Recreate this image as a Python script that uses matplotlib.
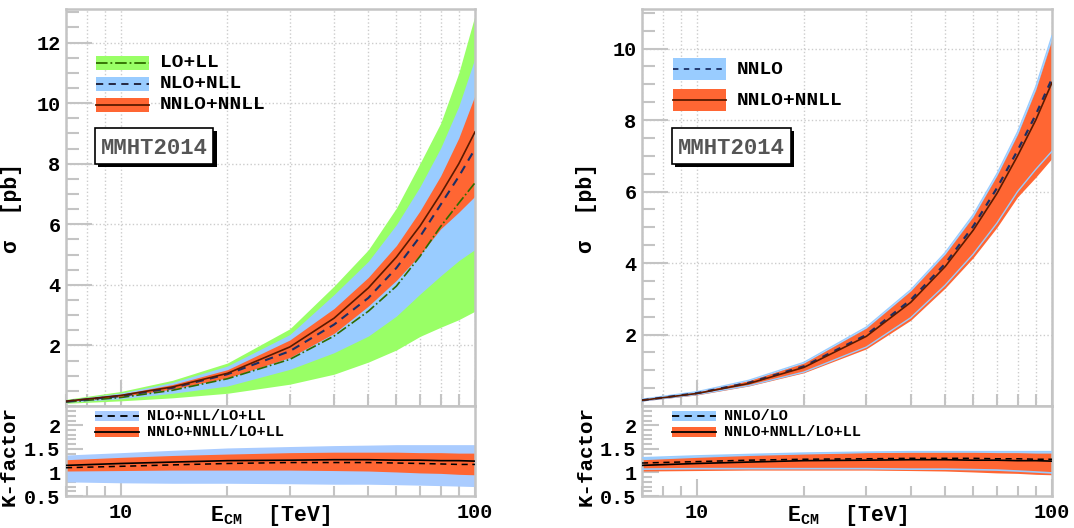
import matplotlib
matplotlib.use("Agg")
import matplotlib.pyplot as plt
from matplotlib.patches import Rectangle
from matplotlib.lines import Line2D
from matplotlib.ticker import FixedLocator, NullFormatter, FixedFormatter

plt.rcParams['font.family'] = ['Liberation Mono', 'DejaVu Sans Mono']
plt.rcParams['font.weight'] = 'bold'
plt.rcParams['mathtext.fontset'] = 'custom'
plt.rcParams['mathtext.rm'] = 'Liberation Mono:bold'
plt.rcParams['mathtext.it'] = 'Liberation Mono:bold'
plt.rcParams['mathtext.bf'] = 'Liberation Mono:bold'

# centre-of-mass energies [TeV]
E = [7, 10, 14, 20, 30, 40, 50, 60, 70, 80, 90, 100]

# cross sections [pb]
lo_ll = [0.13, 0.28, 0.52, 0.90, 1.54, 2.31, 3.13, 3.96, 4.95, 5.93, 6.70, 7.37]
lo_ll_lo = [0.09, 0.17, 0.27, 0.42, 0.72, 1.05, 1.45, 1.85, 2.30, 2.60, 2.85, 3.13]
lo_ll_hi = [0.22, 0.48, 0.85, 1.42, 2.55, 3.96, 5.16, 6.54, 8.02, 9.34, 11.0, 12.9]

nlo_nll = [0.15, 0.33, 0.60, 1.05, 1.81, 2.69, 3.57, 4.56, 5.60, 6.65, 7.58, 8.49]
nlo_nll_lo = [0.12, 0.24, 0.42, 0.66, 1.21, 1.76, 2.31, 2.97, 3.70, 4.30, 4.80, 5.17]
nlo_nll_hi = [0.20, 0.43, 0.78, 1.32, 2.36, 3.68, 4.78, 5.99, 7.25, 8.52, 9.90, 11.49]

nnlo_nnll = [0.16, 0.35, 0.63, 1.08, 1.95, 2.90, 3.90, 4.92, 5.95, 7.00, 8.00, 9.05]
nnlo_nnll_lo = [0.14, 0.31, 0.56, 0.93, 1.60, 2.40, 3.30, 4.15, 5.00, 5.85, 6.40, 6.93]
nnlo_nnll_hi = [0.18, 0.39, 0.71, 1.20, 2.18, 3.22, 4.25, 5.30, 6.45, 7.60, 8.85, 10.26]

nnlo = [0.16, 0.36, 0.65, 1.11, 1.99, 2.97, 3.98, 5.03, 6.10, 7.15, 8.15, 9.16]
nnlo_lo = [0.14, 0.32, 0.57, 0.95, 1.65, 2.47, 3.38, 4.25, 5.12, 6.00, 6.62, 7.13]
nnlo_hi = [0.19, 0.40, 0.72, 1.22, 2.21, 3.25, 4.29, 5.35, 6.50, 7.67, 8.93, 10.36]

# K-factors
k_nlo = [1.10, 1.13, 1.16, 1.19, 1.21, 1.21, 1.21, 1.20, 1.19, 1.18, 1.17, 1.17]
k_nlo_lo = [0.80, 0.78, 0.77, 0.77, 0.76, 0.75, 0.75, 0.74, 0.73, 0.72, 0.71, 0.70]
k_nlo_hi = [1.37, 1.42, 1.47, 1.52, 1.55, 1.57, 1.58, 1.59, 1.59, 1.59, 1.59, 1.59]

k_nnll = [1.15, 1.19, 1.22, 1.25, 1.26, 1.27, 1.27, 1.26, 1.26, 1.25, 1.25, 1.24]
k_nnll_lo = [1.03, 1.04, 1.05, 1.05, 1.05, 1.04, 1.03, 1.01, 0.99, 0.98, 0.96, 0.95]
k_nnll_hi = [1.27, 1.32, 1.36, 1.39, 1.42, 1.43, 1.43, 1.43, 1.42, 1.42, 1.41, 1.41]

k_nnlo = [1.20, 1.23, 1.26, 1.28, 1.29, 1.30, 1.30, 1.30, 1.29, 1.29, 1.28, 1.28]
k_nnlo_lo = [1.07, 1.08, 1.08, 1.08, 1.08, 1.07, 1.07, 1.06, 1.05, 1.03, 1.01, 0.99]
k_nnlo_hi = [1.31, 1.35, 1.38, 1.41, 1.43, 1.44, 1.44, 1.44, 1.44, 1.44, 1.44, 1.44]

GREEN = '#99ff66'
BLUE = '#99ccff'
BLUE_K = '#aaccff'
RED = '#ff6633'
SPINE = '#c4c4c4'

fig = plt.figure(figsize=(10.74, 5.28), dpi=100)
W, H = 1074.0, 528.0


def px_axes(x0, x1, ytop, ybot):
    return fig.add_axes([x0 / W, 1 - ybot / H, (x1 - x0) / W, (ybot - ytop) / H])


def style(ax, ymaj, ymin, ylim, ylabels, grid, lower):
    ax.set_xscale('log')
    ax.set_xlim(7, 100)
    ax.set_ylim(*ylim)
    ax.xaxis.set_major_locator(FixedLocator([10, 100]))
    ax.xaxis.set_minor_locator(FixedLocator([7, 8, 9, 20, 30, 40, 50, 60, 70, 80, 90]))
    ax.xaxis.set_minor_formatter(NullFormatter())
    ax.yaxis.set_major_locator(FixedLocator(ymaj))
    ax.yaxis.set_minor_locator(FixedLocator(ymin))
    ax.yaxis.set_major_formatter(FixedFormatter(ylabels))
    if lower:
        ax.xaxis.set_major_formatter(FixedFormatter(['10', '100']))
        ax.tick_params(axis='both', which='major', length=12)
        ax.tick_params(axis='both', which='minor', length=7)
    else:
        ax.xaxis.set_major_formatter(NullFormatter())
        ax.tick_params(axis='both', which='major', length=19)
        ax.tick_params(axis='both', which='minor', length=9)
    ax.tick_params(axis='both', which='both', direction='in', color=SPINE,
                   width=1.5, labelsize=14.5, pad=4, top=False, right=False)
    ax.tick_params(axis='x', which='major', pad=5)
    for s in ax.spines.values():
        s.set_color(SPINE)
        s.set_linewidth(1.8)
    if grid:
        ax.grid(True, which='major', axis='both', ls=':', color='#cccccc', lw=1.0)
        ax.grid(True, which='minor', axis='x', ls=':', color='#cccccc', lw=1.0)
    ax.set_axisbelow(True)


def swatch(ax, x0, x1, yc, h, fc, ls, lc, text, fs):
    ax.add_patch(Rectangle((x0, yc - h / 2), x1 - x0, h, transform=ax.transAxes,
                           facecolor=fc, edgecolor='none', zorder=5))
    ax.add_line(Line2D([x0, x1], [yc, yc], transform=ax.transAxes, color=lc,
                       ls=ls, lw=1.3, zorder=6))
    ax.text(x1 + (0.027 if fs > 12 else 0.02), yc, text, transform=ax.transAxes,
            va='center', ha='left', fontsize=fs, fontweight='bold', zorder=6)


def pdf_box(ax, x0, x1, y0, y1):
    dx, dy = 0.008, 0.008
    ax.add_patch(Rectangle((x0 + dx, y0 - dy), x1 - x0, y1 - y0, transform=ax.transAxes,
                           facecolor='black', edgecolor='none', zorder=5))
    ax.add_patch(Rectangle((x0, y0), x1 - x0, y1 - y0, transform=ax.transAxes,
                           facecolor='white', edgecolor='black', lw=1.2, zorder=6))
    ax.text((x0 + x1) / 2, (y0 + y1) / 2 - 0.005, 'MMHT2014', transform=ax.transAxes,
            ha='center', va='center', fontsize=16, fontweight='bold', color='#555555',
            zorder=7)


def xlabel(ax):
    ax.set_xlabel(r'E$_{\rm CM}$  [TeV]', fontsize=15.5, fontweight='bold')
    ax.xaxis.set_label_coords(0.5, -0.275)
    ax.xaxis.label.set_va('baseline')


main_ticks_l = [2, 4, 6, 8, 10, 12]
main_ticks_r = [2, 4, 6, 8, 10]
minor_main = [i * 0.5 for i in range(1, 27)]
k_ticks = [0.5, 1, 1.5, 2]
k_minor = [0.5 + 0.1 * i for i in range(20)]

# ---------------- left panel ----------------
axL = px_axes(66, 475, 9.3, 406)
axLk = px_axes(66, 475, 406, 496)

axL.fill_between(E, lo_ll_lo, lo_ll_hi, color=GREEN, lw=0, zorder=2)
axL.fill_between(E, nlo_nll_lo, nlo_nll_hi, color=BLUE, lw=0, zorder=2)
axL.fill_between(E, nnlo_nnll_lo, nnlo_nnll_hi, color=RED, lw=0, zorder=2)
axL.plot(E, lo_ll, color='#2f6b00', ls='-.', lw=1.2, zorder=3)
axL.plot(E, nlo_nll, color='#1a2f66', ls=(0, (4, 3)), lw=1.5, zorder=3)
axL.plot(E, nnlo_nnll, color='#5a1a00', ls='-', lw=1.2, zorder=3)
style(axL, main_ticks_l, minor_main, (0, 13.1), [str(t) for t in main_ticks_l], True, False)
axL.set_ylabel('σ  [pb]', fontsize=15.5, fontweight='bold')
axL.yaxis.set_label_coords(-0.108, 0.5)

swatch(axL, 0.073, 0.203, 0.865, 0.036, GREEN, '-.', '#2f6b00', 'LO+LL', 14)
swatch(axL, 0.073, 0.203, 0.812, 0.036, BLUE, (0, (4, 3)), '#1a1a33', 'NLO+NLL', 14)
swatch(axL, 0.073, 0.203, 0.759, 0.036, RED, '-', '#5a1a00', 'NNLO+NNLL', 14)
pdf_box(axL, 0.071, 0.360, 0.61, 0.70)

axLk.fill_between(E, k_nlo_lo, k_nlo_hi, color=BLUE_K, lw=0, zorder=2)
axLk.fill_between(E, k_nnll_lo, k_nnll_hi, color=RED, lw=0, zorder=2)
axLk.plot(E, k_nnll, color='black', ls='-', lw=1.2, zorder=3)
axLk.plot(E, k_nlo, color='black', ls=(0, (4, 3)), lw=1.1, zorder=3)
style(axLk, k_ticks, k_minor, (0.5, 2.41), ['0.5', '1', '1.5', '2'], False, True)
axLk.set_ylabel('K-factor', fontsize=15, fontweight='bold')
axLk.yaxis.set_label_coords(-0.117, 0.45)
xlabel(axLk)

swatch(axLk, 0.071, 0.178, 0.892, 0.11, BLUE_K, (0, (4, 3)), 'black', 'NLO+NLL/LO+LL', 11)
swatch(axLk, 0.071, 0.178, 0.708, 0.11, RED, '-', 'black', 'NNLO+NNLL/LO+LL', 11)

# ---------------- right panel ----------------
axR = px_axes(642, 1052, 9.3, 406)
axRk = px_axes(642, 1052, 406, 496)

axR.fill_between(E, nnlo_lo, nnlo_hi, color=BLUE, lw=0, zorder=2)
axR.fill_between(E, nnlo_nnll_lo, nnlo_nnll_hi, color=RED, lw=0, zorder=2)
axR.plot(E, nnlo_lo, color=BLUE, lw=1.0, zorder=3)
axR.plot(E, nnlo_hi, color=BLUE, lw=1.0, zorder=3)
axR.plot(E, nnlo, color='#1a2f66', ls=(0, (3, 3)), lw=1.6, zorder=3)
axR.plot(E, nnlo_nnll, color='#5a1a00', ls='-', lw=1.2, zorder=3)
style(axR, main_ticks_r, minor_main, (0, 11.1), [str(t) for t in main_ticks_r], True, False)
axR.set_ylabel('σ  [pb]', fontsize=15.5, fontweight='bold')
axR.yaxis.set_label_coords(-0.110, 0.5)

swatch(axR, 0.076, 0.205, 0.849, 0.055, BLUE, (0, (3, 3)), '#1a2f66', 'NNLO', 14)
swatch(axR, 0.076, 0.205, 0.771, 0.055, RED, '-', '#5a1a00', 'NNLO+NNLL', 14)
pdf_box(axR, 0.073, 0.363, 0.61, 0.70)

axRk.fill_between(E, k_nnlo_lo, k_nnlo_hi, color=BLUE, lw=0, zorder=2)
axRk.fill_between(E, k_nnll_lo, k_nnll_hi, color=RED, lw=0, zorder=2)
axRk.plot(E, k_nnlo_lo, color=BLUE, lw=1.2, zorder=3)
axRk.plot(E, k_nnlo_hi, color=BLUE, lw=1.2, zorder=3)
axRk.plot(E, k_nnll, color='black', ls='-', lw=1.2, zorder=3)
axRk.plot(E, k_nnlo, color='black', ls=(0, (4, 3)), lw=1.1, zorder=3)
style(axRk, k_ticks, k_minor, (0.5, 2.41), ['0.5', '1', '1.5', '2'], False, True)
axRk.set_ylabel('K-factor', fontsize=15, fontweight='bold')
axRk.yaxis.set_label_coords(-0.113, 0.45)
xlabel(axRk)

swatch(axRk, 0.073, 0.180, 0.892, 0.11, BLUE, (0, (4, 3)), 'black', 'NNLO/LO', 11)
swatch(axRk, 0.073, 0.180, 0.708, 0.11, RED, '-', 'black', 'NNLO+NNLL/LO+LL', 11)

fig.savefig('out.png', dpi=100)
